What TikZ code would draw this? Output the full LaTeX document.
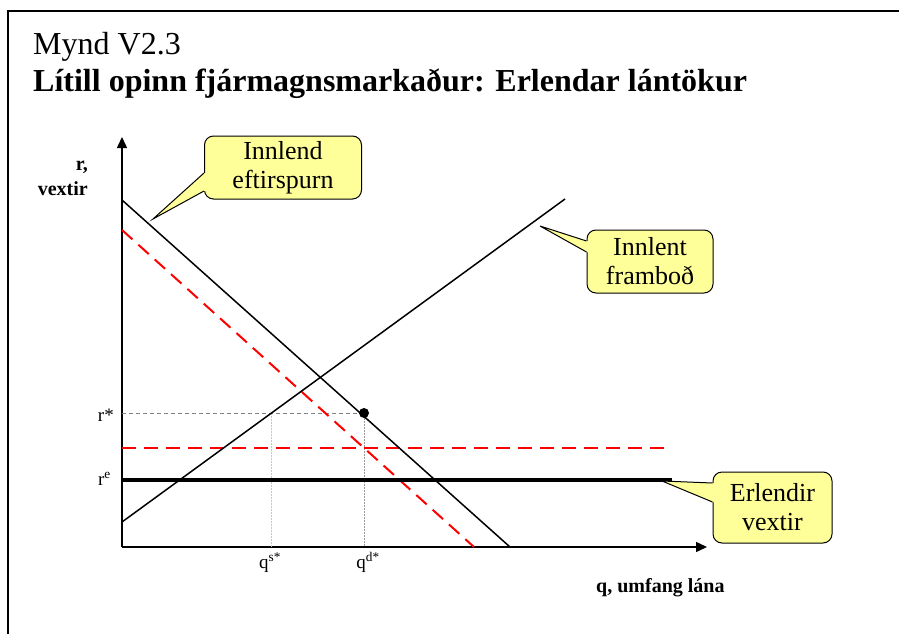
\documentclass[tikz,border=0pt]{standalone}
\usepackage{fontspec}
\setmainfont{Liberation Serif}
\usetikzlibrary{arrows.meta,calc}
\definecolor{notefill}{RGB}{255,255,153}
\definecolor{shift}{RGB}{255,0,0}
\tikzset{
  frame/.style={line width=2.5pt, line cap=rect},
  axis/.style={line width=1.5pt, -{Triangle[length=11pt,width=10pt]}},
  curve/.style={line width=1.5pt},
  moved/.style={line width=2pt, dash pattern=on 14pt off 8pt, color=shift},
  world/.style={line width=3.5pt},
  guide/.style={line width=0.8pt, color=gray, dash pattern=on 4pt off 3pt},
  faint/.style={line width=0.8pt, color=gray!45, dash pattern=on 2pt off 1pt},
  note/.style={draw, fill=notefill, rounded corners=9pt, line width=1pt, align=center, font=\fontsize{26}{29}\selectfont, inner sep=0pt, minimum width=#1},
  tick/.style={font=\fontsize{19}{21}\selectfont, inner sep=0pt},
  lab/.style={font=\fontsize{20}{22}\selectfont\bfseries, inner sep=0pt},
  head/.style={font=\fontsize{32}{38}\selectfont, inner sep=0pt, anchor=base west},
}
\begin{document}
\begin{tikzpicture}[x=1pt, y=-1pt]
  \useasboundingbox (0,0) rectangle (899,634);
  \draw[frame] (8,640) -- (8,11) -- (905,11);
  \node[head] (mynd) at (33,55) {Mynd V2.3};
  \node[head, font=\fontsize{32}{38}\selectfont\bfseries] (titill) at (33,92) {Lítill opinn fjármagnsmarkaður: Erlendar lántökur};
  % axes
  \coordinate (O) at (122,547);
  \coordinate (ytop) at (122,137);
  \coordinate (xend) at (707,547);
  \draw[axis] (O) -- (ytop);
  \draw[axis] (O) -- (xend);
  \node[lab, anchor=base east] (rlab) at (88,170) {r,};
  \node[lab, anchor=base east] (vlab) at (88,195) {vextir};
  \node[lab, anchor=base west] (qlab) at (596,592) {q, umfang lána};
  % curves
  \coordinate (d0) at (122,200); \coordinate (d1) at (510,547);
  \coordinate (s0) at (122,522); \coordinate (s1) at (565,199);
  \coordinate (m0) at (122,230); \coordinate (m1) at (474,547);
  \coordinate (w0) at (122,448); \coordinate (w1) at (670,448);
  \coordinate (e0) at (122,480); \coordinate (e1) at (672,480);
  \coordinate (rs) at (122,413);
  \coordinate (qsr) at (271,413); \coordinate (qs) at (271,547);
  \coordinate (qd) at (364,547);
  \node[circle, fill, inner sep=0pt, minimum size=10pt] (eq) at (364,413) {};
  \draw[guide] (rs) -- (eq);
  \draw[faint] (qsr) -- (qs);
  \draw[guide, color=gray!80, dash pattern=on 2pt off 1pt] (eq) -- (qd);
  \draw[moved] (m0) -- (m1);
  \draw[moved] (w0) -- (w1);
  \draw[curve] (d0) -- (d1);
  \draw[curve] (s0) -- (s1);
  \draw[world] (e0) -- (e1);
  \node[tick, anchor=base east] (rstar) at (114,421) {r*};
  \node[tick, anchor=base east] (re) at (111,485) {r\textsuperscript{e}};
  \node[tick, anchor=base] (qstar) at (270,568) {q\textsuperscript{s*}};
  \node[tick, anchor=base] (qdstar) at (368,568) {q\textsuperscript{d*}};
  % callouts
  \node[note=157pt, minimum height=63pt] (dbox) at (283,167.5) {Innlend\\eftirspurn};
  \node[note=126pt, minimum height=63pt] (sbox) at (650,261.5) {Innlent\\framboð};
  \node[note=119pt, minimum height=71pt] (ebox) at (772.5,507.5) {Erlendir\\vextir};
  \coordinate (dtip) at (153,219);
  \coordinate (stip) at (540,226);
  \coordinate (etip) at (662,481);
  \foreach \b/\t/\u/\v in {dbox/dtip/5.5/23.5, sbox/stip/-20.5/-9.5, ebox/etip/-24.5/-5.5} {
    \coordinate (\b-a) at ($(\b.west)+(0,\u)$);
    \coordinate (\b-b) at ($(\b.west)+(0,\v)$);
    \fill[notefill] (\t) -- (\b-a) -- ([xshift=3pt]\b-a) -- ([xshift=3pt]\b-b) -- (\b-b) -- cycle;
    \draw[line width=1pt, line join=miter] (\b-a) -- (\t) -- (\b-b);
  }
\end{tikzpicture}
\end{document}
